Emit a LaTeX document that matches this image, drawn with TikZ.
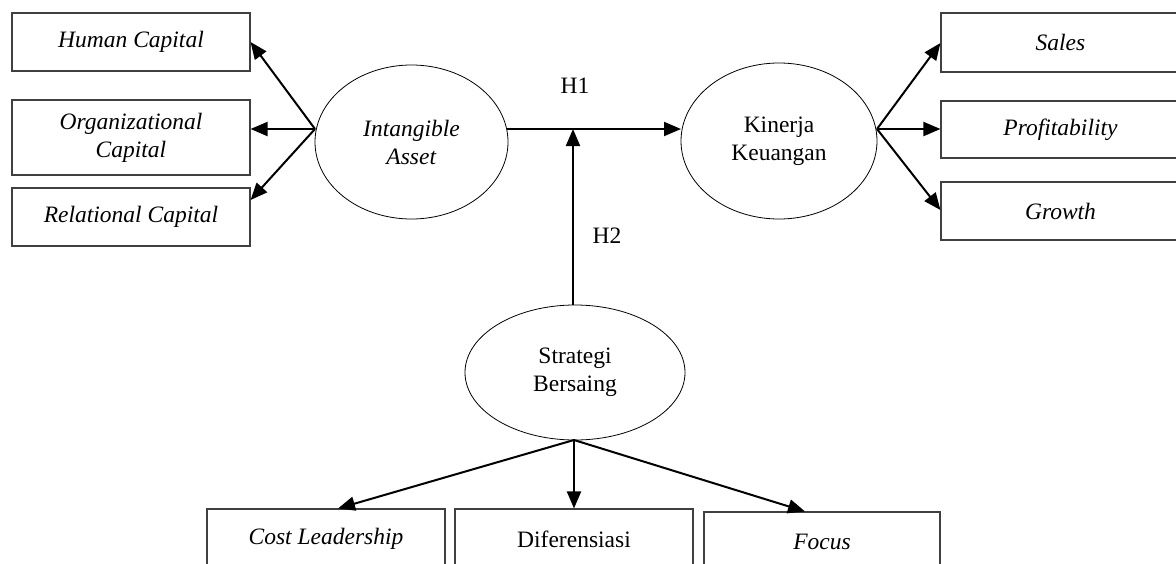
\documentclass[tikz,border=0pt]{standalone}
\usepackage{fontspec}
\setmainfont{Liberation Serif}
\usetikzlibrary{shapes.geometric,arrows.meta,calc}
\begin{document}
\begin{tikzpicture}[x=1pt,y=-1pt,
  every node/.style={font=\fontsize{23.5}{28}\selectfont},
  box/.style={draw=black!75,line width=1.1pt,rectangle,inner sep=0pt,align=center},
  oval/.style={draw,line width=0.8pt,ellipse,inner sep=0pt,align=center},
  arr/.style={line width=2pt,-{Triangle[length=17pt,width=14pt]}},
  lbl/.style={inner sep=0pt}]
\useasboundingbox (0,0) rectangle (1176,563);
\clip (0,0) rectangle (1176,563);
% left boxes
\node[box,minimum width=238pt,minimum height=58pt] (hc) at (131,42) {\textit{Human Capital}};
\node[box,minimum width=238pt,minimum height=75pt] (oc) at (131,137.5) {\textit{Organizational}\\\textit{Capital}};
\node[box,minimum width=238pt,minimum height=58pt] (rc) at (131,217) {\textit{Relational Capital}};
% right boxes
\node[box,minimum width=239pt,minimum height=59pt] (sa) at (1060.5,42.5) {\textit{Sales}};
\node[box,minimum width=239pt,minimum height=57pt] (pr) at (1060.5,129.5) {\textit{Profitability}};
\node[box,minimum width=239pt,minimum height=58pt] (gr) at (1060.5,211) {\textit{Growth}};
% bottom boxes
\node[box,minimum width=238pt,minimum height=60pt] (cl) at (326,539) {\textit{Cost Leadership}};
\node[box,minimum width=238pt,minimum height=60pt] (di) at (574,539) {Diferensiasi};
\node[box,minimum width=236pt,minimum height=60pt] (fo) at (822,542) {\textit{Focus}};
% ellipses
\node[oval,minimum width=193pt,minimum height=154pt] (ia) at (411.5,142) {\textit{Intangible}\\\textit{Asset}};
\node[oval,minimum width=196pt,minimum height=156pt] (kk) at (779,141) {Kinerja\\Keuangan};
\node[oval,minimum width=220pt,minimum height=135pt] (sb) at (575,372.5) {Strategi\\Bersaing};
% connection points
\coordinate (iaL) at (315,129);
\coordinate (iaR) at (507,129);
\coordinate (kkL) at (681,129);
\coordinate (kkR) at (877,129);
\coordinate (mid) at (573,129);
\coordinate (sbT) at (573,305);
\coordinate (sbB) at (574,440);
% labels
\node[lbl] (h1) at (575,86) {H1};
\node[lbl] (h2) at (607,236) {H2};
% arrows
\draw[arr] (iaL) -- (hc.east);
\draw[arr] (iaL) -- (oc.east |- iaL);
\draw[arr] (iaL) -- ($(rc.east)+(0,-17)$);
\draw[arr] (kkR) -- ($(sa.west)+(0,0.5)$);
\draw[arr] (kkR) -- (pr.west |- kkR);
\draw[arr] (kkR) -- ($(gr.west)+(0,-1)$);
\draw[arr] (iaR) -- (kkL);
\draw[arr] (sbT) -- (mid);
\draw[arr] (sbB) -- ($(cl.north)+(12,0)$);
\draw[arr] (sbB) -- (di.north);
\draw[arr] (sbB) -- ($(fo.north)+(-17,0)$);
\end{tikzpicture}
\end{document}
